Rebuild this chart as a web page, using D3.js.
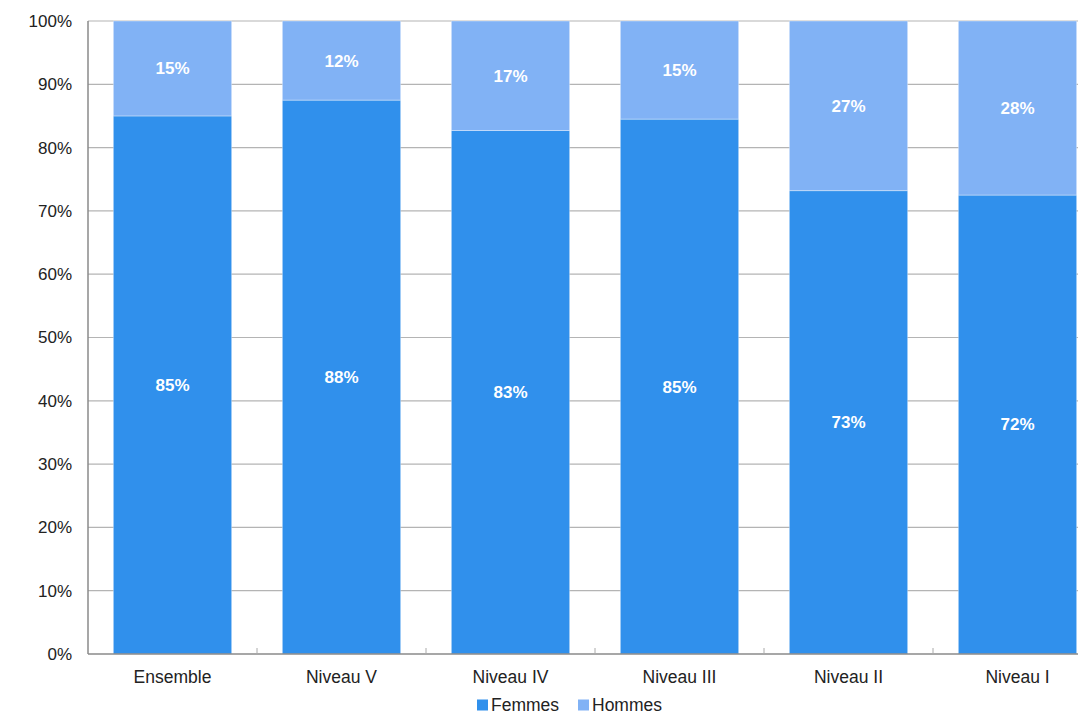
<!DOCTYPE html>
<html>
<head>
<meta charset="utf-8">
<script src="https://cdn.jsdelivr.net/npm/d3@7"></script>
<style>
  body { margin: 0; background: #fff; }
  svg text { font-family: "Liberation Sans", Arial, Helvetica, sans-serif; }
</style>
</head>
<body>
<div id="chart"></div>
<script>
// chart values
const categories = ["Ensemble", "Niveau V", "Niveau IV", "Niveau III", "Niveau II", "Niveau I"];
const femmes = [85.0, 87.5, 82.7, 84.5, 73.2, 72.5];
const hommes = [15.0, 12.5, 17.3, 15.5, 26.8, 27.5];
const femmesLabels = ["85%", "88%", "83%", "85%", "73%", "72%"];
const hommesLabels = ["15%", "12%", "17%", "15%", "27%", "28%"];
const yTicks = [0, 10, 20, 30, 40, 50, 60, 70, 80, 90, 100];
const seriesNames = ["Femmes", "Hommes"];
const colors = ["#3090ec", "#81b2f5"];

const width = 1078, height = 717;
const margin = {top: 21, left: 88, bottom: 63};
const plotH = height - margin.top - margin.bottom;
const plotRight = margin.left + 169 * categories.length;

const svg = d3.select("#chart").append("svg")
    .attr("width", width)
    .attr("height", height);

const x = d3.scaleBand()
    .domain(categories)
    .range([margin.left, plotRight])
    .paddingInner(0.3)
    .paddingOuter(0.15);

const y = d3.scaleLinear()
    .domain([0, 100])
    .range([margin.top + plotH, margin.top]);

// gridlines
svg.append("g")
    .selectAll("line")
    .data(yTicks.filter(d => d > 0))
    .join("line")
    .attr("x1", margin.left)
    .attr("x2", plotRight)
    .attr("y1", d => y(d))
    .attr("y2", d => y(d))
    .attr("stroke", "#b4b4b4")
    .attr("stroke-width", 1.2);

// y axis labels
svg.append("g")
    .selectAll("text")
    .data(yTicks)
    .join("text")
    .attr("x", 72)
    .attr("y", d => y(d))
    .attr("dy", "0.35em")
    .attr("text-anchor", "end")
    .attr("font-size", 17)
    .attr("fill", "#222")
    .text(d => d + "%");

// stacked data
const rows = categories.map((c, i) => ({cat: c, Femmes: femmes[i], Hommes: hommes[i], i: i}));
const stack = d3.stack().keys(seriesNames)(rows);

svg.append("g")
    .selectAll("g")
    .data(stack)
    .join("g")
    .attr("fill", (d, i) => colors[i])
    .selectAll("rect")
    .data(d => d)
    .join("rect")
    .attr("x", d => x(d.data.cat))
    .attr("width", x.bandwidth())
    .attr("y", d => y(d[1]))
    .attr("height", d => y(d[0]) - y(d[1]))
    .attr("stroke", "rgba(255,255,255,0.35)")
    .attr("stroke-width", 1);

// value labels
const labelSets = [femmesLabels, hommesLabels];
stack.forEach((s, si) => {
    svg.append("g")
        .selectAll("text")
        .data(s)
        .join("text")
        .attr("x", d => x(d.data.cat) + x.bandwidth() / 2)
        .attr("y", d => y((d[0] + d[1]) / 2))
        .attr("dy", "0.35em")
        .attr("text-anchor", "middle")
        .attr("font-size", 17)
        .attr("font-weight", "bold")
        .attr("fill", "#fff")
        .text(d => labelSets[si][d.data.i]);
});

// axes lines
const axisColor = "#8a8a8a";
svg.append("line")
    .attr("x1", margin.left).attr("x2", margin.left)
    .attr("y1", margin.top).attr("y2", y(0))
    .attr("stroke", axisColor).attr("stroke-width", 1.5);
svg.append("line")
    .attr("x1", margin.left).attr("x2", plotRight)
    .attr("y1", y(0)).attr("y2", y(0))
    .attr("stroke", axisColor).attr("stroke-width", 1.5);

// small ticks between categories
svg.append("g")
    .selectAll("line")
    .data(categories.slice(1))
    .join("line")
    .attr("x1", d => x(d) - x.step() * 0.15)
    .attr("x2", d => x(d) - x.step() * 0.15)
    .attr("y1", y(0) - 6)
    .attr("y2", y(0))
    .attr("stroke", "#aaa")
    .attr("stroke-width", 1);

// category labels
svg.append("g")
    .selectAll("text")
    .data(categories)
    .join("text")
    .attr("x", d => x(d) + x.bandwidth() / 2)
    .attr("y", 677)
    .attr("dy", "0.35em")
    .attr("text-anchor", "middle")
    .attr("font-size", 17.5)
    .attr("fill", "#222")
    .text(d => d);

// legend
const legend = svg.append("g").attr("transform", "translate(477,705)");
const legX = [0, 101];
seriesNames.forEach((name, i) => {
    legend.append("rect")
        .attr("x", legX[i]).attr("y", -5.5)
        .attr("width", 11).attr("height", 11)
        .attr("fill", colors[i]);
    legend.append("text")
        .attr("x", legX[i] + 14)
        .attr("y", 0)
        .attr("dy", "0.35em")
        .attr("font-size", 17.5)
        .attr("fill", "#222")
        .text(name);
});
</script>
</body>
</html>
